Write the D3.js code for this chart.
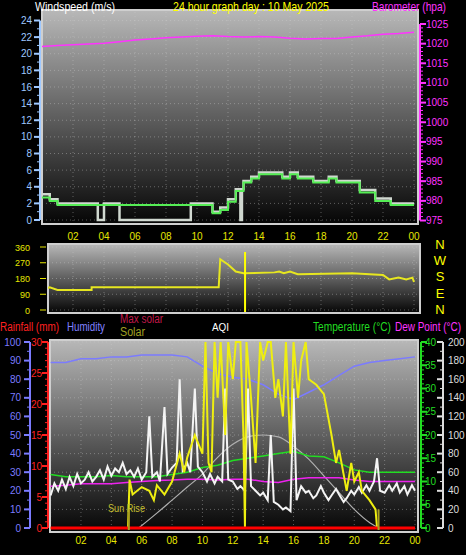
<!DOCTYPE html>
<html><head><meta charset="utf-8">
<script src="https://cdn.jsdelivr.net/npm/d3@7"></script>
<style>body{margin:0;background:#000}svg{display:block;font-family:"Liberation Sans",Arial,sans-serif}</style>
</head><body>
<script>
// ---- data ----
const hours = d3.range(0, 25, 2);
const hourLabels = ["","02","04","06","08","10","12","14","16","18","20","22","00"];
const windAvg = [[0,2.7],[0.5,2.3],[1,1.8],[11,0.8],[11.5,1.2],[12,2.2],[12.5,3.5],[13,4.5],[13.5,5.0],[14,5.5],[15.5,5.0],[16,5.5],[16.5,5.0],[17.5,4.5],[18.5,5.0],[19,4.5],[20.5,3.3],[21.5,2.3],[22.5,1.8],[24,1.8]];
const windGust = [[0,3.1],[0.5,2.5],[1,2.0],[3.6,2.0],[3.6,0],[4.0,0],[4.0,2.0],[5.0,2.0],[5.0,0],[9.6,0],[9.6,2.0],[11,2.0],[11,1.0],[11.5,1.5],[12,2.5],[12.5,3.7],[12.8,3.7],[12.8,0],[12.9,0],[12.9,3.7],[13,4.7],[13.5,5.2],[14,5.7],[15.5,5.2],[16,5.7],[16.5,5.2],[17.5,4.7],[18.5,5.2],[19,4.7],[20.5,3.6],[21.5,2.6],[22.5,2.0],[24,2.0]];
const pressure = [1019.3,1019.5,1019.7,1019.9,1020.1,1020.5,1020.9,1021.2,1021.5,1021.7,1021.9,1022.0,1021.8,1021.7,1021.8,1021.7,1021.4,1021.2,1021.3,1021.3,1021.7,1022.0,1022.4,1022.6,1022.9];
const windDir = [[0,115],[0.5,130],[1,115],[3.2,115],[3.2,130],[11.4,130],[11.5,290],[12,260],[12.5,220],[13,210],[15,215],[15.3,220],[15.6,210],[16,220],[16.5,205],[20,210],[22,200],[22.4,175],[23,185],[23.5,175],[23.9,185],[24,160]];
const dirSpike = 13.1;
const humidity = [89,89,91,91,92,92,93,93,93,92,87,83,81,80,77,72,69,73,77,82,87,89,90,91,92];
const temperature = [11.5,11,11,11,11.3,11,11,11,11.5,12,13,13.5,14.5,15,15.5,16,16.5,15.5,15.3,14,12.5,12,12,12,12];
const dewPoint = [9,9.2,9.5,9.5,9.5,9.8,10,10.2,10.3,10.5,10.5,10.3,10.5,10.5,10,9.8,10.5,10.8,10.8,10.8,10.3,10,10,10,10];
const maxSolar = [[5.8,0],[7,80],[8,150],[9,220],[10,290],[11,380],[12,450],[13,490],[14,500],[15,490],[16,440],[17,370],[18,280],[19,190],[20,100],[21,30],[21.8,0],[24,0]];
const solar = [[0,0],[5.1,0],[5.2,260],[5.4,180],[6,220],[6.5,200],[6.8,150],[7,230],[7.5,180],[8,250],[8.5,400],[8.8,300],[9,380],[9.5,500],[10,400],[10.2,1000],[10.4,350],[10.6,300],[10.8,1000],[11,700],[11.2,1000],[11.5,500],[11.7,1000],[12,800],[12.2,1000],[12.5,1000],[12.7,500],[12.8,0],[12.9,1000],[13.2,700],[13.5,350],[13.8,1000],[14,900],[14.3,1000],[14.5,1000],[14.8,700],[15,800],[15.3,600],[15.5,1000],[15.8,400],[16,1000],[16.3,700],[16.5,900],[16.8,1000],[17,800],[17.5,770],[18,720],[18.5,500],[18.8,350],[19,420],[19.5,200],[19.8,350],[20,250],[20.3,300],[20.5,200],[21,150],[21.4,100],[21.5,0],[24,0]];
const aqi = [[0,35],[0.25,48],[0.5,40],[0.75,52],[1,42],[1.25,55],[1.5,45],[1.75,58],[2,48],[2.25,52],[2.5,60],[2.75,50],[3,55],[3.25,62],[3.5,52],[3.75,66],[4,56],[4.25,64],[4.5,60],[4.75,70],[5,58],[5.25,62],[5.5,55],[5.75,64],[6,52],[6.3,60],[6.5,120],[6.7,55],[7,60],[7.2,50],[7.5,130],[7.7,58],[8,65],[8.3,70],[8.5,160],[8.7,62],[9,70],[9.2,60],[9.5,150],[9.7,66],[10,60],[10.3,50],[10.5,58],[10.8,48],[11,55],[11.3,50],[11.5,150],[11.7,52],[12,50],[12.3,42],[12.5,45],[12.8,40],[13,150],[13.2,45],[13.5,40],[13.8,35],[14,38],[14.3,30],[14.5,100],[14.7,28],[15,25],[15.3,20],[15.5,22],[15.8,18],[16,150],[16.2,30],[16.5,45],[16.8,38],[17,40],[17.3,32],[17.5,35],[17.8,45],[18,38],[18.3,30],[18.5,35],[18.8,42],[19,36],[19.3,28],[19.5,32],[19.8,40],[20,36],[20.3,44],[20.5,38],[20.8,46],[21,40],[21.3,50],[21.5,75],[21.7,40],[22,38],[22.3,46],[22.5,40],[22.8,48],[23,38],[23.3,45],[23.5,36],[23.8,46],[24,40]];
const rain = [[0,0],[24,0]];
const sunRise = 5.15, sunSet = 21.6;

const W = 466, H = 555;
const svg = d3.select("body").append("svg").attr("width", W).attr("height", H);
const defs = svg.append("defs");
const grad = defs.append("linearGradient").attr("id","bg").attr("x1",0).attr("y1",0).attr("x2",0).attr("y2",1);
grad.append("stop").attr("offset","0%").attr("stop-color","#b8b8b8");
grad.append("stop").attr("offset","100%").attr("stop-color","#050505");

function panel(id, x0, x1, y0, y1) {
  defs.append("clipPath").attr("id", id).append("rect").attr("x", x0).attr("y", y0).attr("width", x1 - x0).attr("height", y1 - y0);
  svg.append("rect").attr("x", x0).attr("y", y0).attr("width", x1 - x0).attr("height", y1 - y0)
    .attr("fill", "url(#bg)").attr("stroke", "#cfcfcf").attr("stroke-width", 2);
  return svg.append("g").attr("clip-path", `url(#${id})`);
}
function grid(g, x, ys, x0, x1) {
  g.selectAll(null).data(hours).join("line").attr("x1", d => x(d)).attr("x2", d => x(d))
    .attr("y1", 0).attr("y2", H).attr("stroke", "#ccc").attr("stroke-opacity", 0.4).attr("stroke-dasharray", "1,3");
  g.selectAll(null).data(ys).join("line").attr("x1", x0).attr("x2", x1).attr("y1", d => d).attr("y2", d => d)
    .attr("stroke", "#ccc").attr("stroke-opacity", 0.4).attr("stroke-dasharray", "1,3");
}
function text(x, y, s, col, anchor, size, len) {
  const t = svg.append("text").attr("x", x).attr("y", y).attr("fill", col).attr("font-size", size).attr("text-anchor", anchor).text(s);
  if (len) t.attr("textLength", len).attr("lengthAdjust", "spacingAndGlyphs");
}
function axisTicks(scale, ticks, x, side, col, labelX, anchor, minor) {
  const g = svg.append("g");
  g.append("line").attr("x1", x).attr("x2", x).attr("y1", scale.range()[0]).attr("y2", scale.range()[1]).attr("stroke", col).attr("stroke-width", 2);
  if (minor) {
    g.selectAll(null).data(d3.range(scale.domain()[0], scale.domain()[1] + 1e-9, minor)).join("line")
      .attr("x1", x).attr("x2", x + side * 3).attr("y1", d => scale(d)).attr("y2", d => scale(d)).attr("stroke", col);
  }
  g.selectAll(null).data(ticks).join("line").attr("x1", x).attr("x2", x + side * 6)
    .attr("y1", d => scale(d)).attr("y2", d => scale(d)).attr("stroke", col).attr("stroke-width", 2);
  g.selectAll(null).data(ticks).join("text").attr("x", labelX).attr("y", d => scale(d) + 3.5)
    .attr("fill", col).attr("font-size", 10).attr("text-anchor", anchor).text(d => d);
}

// ---- top panel: wind + barometer ----
const xTop = d3.scaleLinear().domain([0, 24]).range([42, 414]);
const yWind = d3.scaleLinear().domain([0, 24]).range([220, 20.5]);
const yBaro = d3.scaleLinear().domain([975, 1025]).range([220.5, 24]);
const gTop = panel("cTop", 42, 418, 10, 224);
grid(gTop, xTop, d3.range(0, 25, 2).map(yWind), 42, 418);
gTop.append("path").datum(pressure).attr("fill", "none").attr("stroke", "#ff33ff").attr("stroke-width", 1.5)
  .attr("d", d3.line().x((d, i) => xTop(i)).y(d => yBaro(d)));
gTop.append("path").datum(windGust).attr("fill", "none").attr("stroke", "#d0d8d0").attr("stroke-width", 2.5)
  .attr("d", d3.line().curve(d3.curveStepAfter).x(d => xTop(d[0])).y(d => yWind(d[1])));
gTop.append("path").datum(windAvg).attr("fill", "none").attr("stroke", "#55ee55").attr("stroke-width", 2)
  .attr("d", d3.line().curve(d3.curveStepAfter).x(d => xTop(d[0])).y(d => yWind(d[1])));
axisTicks(yWind, d3.range(0, 25, 2), 40, -1, "#9ec8ff", 32, "end", 1);
svg.selectAll(".x1").data(hours.slice(1)).join("text").attr("x", d => xTop(d)).attr("y", 240)
  .attr("fill", "#e6e600").attr("font-size", 10).attr("text-anchor", "middle").text((d, i) => hourLabels[i + 1]);
axisTicks(yBaro, d3.range(975, 1026, 5), 420, 1, "#ff33ff", 426, "start", 1);
text(35, 11, "Windspeed (m/s)", "#fff", "start", 13, 80);
text(173, 11, "24 hour graph day : 10 May 2025", "#ffff00", "start", 13, 156);
text(372, 11, "Barometer (hpa)", "#ff33ff", "start", 13, 74);

// ---- middle panel: wind direction ----
const yDir = d3.scaleLinear().domain([0, 360]).range([310, 247]);
const gMid = panel("cMid", 48, 420, 244, 313);
grid(gMid, xTop, [0, 90, 180, 270, 360].map(yDir), 48, 420);
gMid.append("path").datum(windDir).attr("fill", "none").attr("stroke", "#e6e620").attr("stroke-width", 2)
  .attr("d", d3.line().x(d => xTop(d[0])).y(d => yDir(d[1])));
svg.append("line").attr("x1", xTop(dirSpike)).attr("x2", xTop(dirSpike)).attr("y1", 252).attr("y2", 312).attr("stroke", "#ffff00").attr("stroke-width", 2);
svg.append("g").selectAll("text").data([0, 90, 180, 270, 360]).join("text").attr("x", 30).attr("y", d => yDir(d) + 3.5)
  .attr("fill", "#e6e600").attr("font-size", 9).attr("text-anchor", "end").text(d => d);
svg.append("g").selectAll("line").data([0, 90, 180, 270, 360]).join("line").attr("x1", 40).attr("x2", 46)
  .attr("y1", d => yDir(d)).attr("y2", d => yDir(d)).attr("stroke", "#e6e600");
["N", "W", "S", "E", "N"].forEach((s, i) => text(440, 249 + i * 16.2, s, "#ffff00", "middle", 13));

// ---- bottom panel ----
const xB = d3.scaleLinear().domain([0, 24]).range([50.6, 415]);
const yHum = d3.scaleLinear().domain([0, 100]).range([528, 342]);
const yRain = d3.scaleLinear().domain([0, 30]).range([528, 342]);
const yTemp = d3.scaleLinear().domain([0, 40]).range([528, 342]);
const yAqi = d3.scaleLinear().domain([0, 200]).range([528, 342]);
const ySolar = d3.scaleLinear().domain([0, 1000]).range([528, 342]);
const gB = panel("cBot", 50, 418, 340, 532);
grid(gB, xB, d3.range(0, 101, 10).map(yHum), 50, 418);
const lineXY = (ys) => d3.line().x(d => xB(d[0])).y(d => ys(d[1]));
gB.append("path").datum(humidity.map((v, i) => [i, v])).attr("fill", "none").attr("stroke", "#7b7bff").attr("stroke-width", 1.5).attr("d", lineXY(yHum));
gB.append("path").datum(maxSolar).attr("fill", "none").attr("stroke", "#b0b0b0").attr("stroke-width", 1.2).attr("d", lineXY(ySolar).curve(d3.curveMonotoneX));
gB.append("path").datum(temperature.map((v, i) => [i, v])).attr("fill", "none").attr("stroke", "#22dd22").attr("stroke-width", 1.5).attr("d", lineXY(yTemp));
gB.append("path").datum(dewPoint.map((v, i) => [i, v])).attr("fill", "none").attr("stroke", "#ee22ee").attr("stroke-width", 1.5).attr("d", lineXY(yTemp));
gB.append("path").datum(aqi).attr("fill", "none").attr("stroke", "#f4f4f4").attr("stroke-width", 2).attr("d", lineXY(yAqi));
gB.append("path").datum(solar).attr("fill", "none").attr("stroke", "#eeee10").attr("stroke-width", 2).attr("d", lineXY(ySolar));
gB.append("path").datum(rain).attr("fill", "none").attr("stroke", "#ff0000").attr("stroke-width", 3).attr("d", lineXY(yRain));
[sunRise, sunSet].forEach(t => gB.append("line").attr("x1", xB(t)).attr("x2", xB(t)).attr("y1", yHum(10)).attr("y2", 530).attr("stroke", "#aaa020").attr("stroke-width", 2));
text(108, 512, "Sun Rise", "#c8c030", "start", 11, 37);
axisTicks(yHum, d3.range(0, 101, 10), 30, -1, "#7b7bff", 21, "end", 5);
axisTicks(yRain, d3.range(0, 31, 5), 48, -1, "#ff2020", 42, "end", 1);
axisTicks(yTemp, d3.range(0, 41, 5), 421, 1, "#22dd22", 425, "start", 1);
axisTicks(yAqi, d3.range(0, 201, 20), 443, -1, "#dddddd", 448, "start", 10);
svg.selectAll(".x3").data(hours.slice(1)).join("text").attr("x", d => xB(d)).attr("y", 544)
  .attr("fill", "#e6e600").attr("font-size", 10).attr("text-anchor", "middle").text((d, i) => hourLabels[i + 1]);
text(0, 331, "Rainfall (mm)", "#ff2020", "start", 12, 59);
text(67, 331, "Humidity", "#8080ff", "start", 12, 38);
text(120, 323, "Max solar", "#c0184a", "start", 12, 43);
text(120, 336, "Solar", "#a0a020", "start", 12, 25);
text(212, 331, "AQI", "#ffffff", "start", 11, 17);
text(313, 331, "Temperature (°C)", "#22dd22", "start", 12, 78);
text(395, 331, "Dew Point (°C)", "#ff33ff", "start", 12, 66);
</script>
</body></html>
